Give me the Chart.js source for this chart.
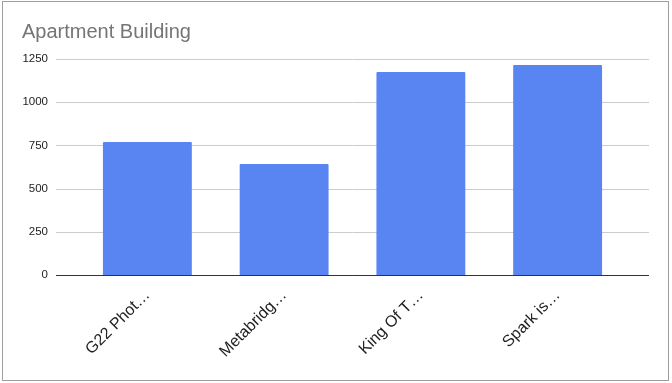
<!DOCTYPE html>
<html>
<head>
<meta charset="utf-8">
<script src="https://cdn.jsdelivr.net/npm/chart.js@4"></script>
<style>
  html, body { margin: 0; padding: 0; background: #fff; }
  #frame { position: absolute; left: 2px; top: 1px; width: 665px; height: 378px; border: 1px solid #9e9e9e; box-sizing: content-box; }
  #chart { position: absolute; left: 0; top: 0; }
</style>
</head>
<body>
<div id="frame"></div>
<canvas id="chart" width="672" height="383"></canvas>
<script>
// values
const categories = ["G22 Phot\u2026", "Metabridg\u2026", "King Of T\u2026", "Spark is\u2026"];
const buildingValues = [770, 643, 1175, 1215];
const yTicks = [0, 250, 500, 750, 1000, 1250];

const FONT = "'Liberation Sans', Arial, sans-serif";

// Google-style gridlines that run past the bar area on both sides
const wideGrid = {
  id: "wideGrid",
  beforeDatasetsDraw(chart) {
    const ctx = chart.ctx;
    const y = chart.scales.y;
    ctx.save();
    y.ticks.forEach(t => {
      const py = Math.round(y.getPixelForValue(t.value)) + 0.5;
      ctx.beginPath();
      ctx.strokeStyle = t.value === 0 ? "#333333" : "#cccccc";
      ctx.lineWidth = 1;
      ctx.moveTo(56, py);
      ctx.lineTo(649, py);
      ctx.stroke();
    });
    ctx.restore();
  },
  afterDatasetsDraw(chart) {
    // baseline sits on top of the bars
    const ctx = chart.ctx;
    const py = Math.round(chart.scales.y.getPixelForValue(0)) + 0.5;
    ctx.save();
    ctx.beginPath();
    ctx.strokeStyle = "#333333";
    ctx.moveTo(56, py);
    ctx.lineTo(649, py);
    ctx.stroke();
    ctx.restore();
  }
};

new Chart(document.getElementById("chart"), {
  type: "bar",
  data: {
    labels: categories,
    datasets: [{
      label: "Apartment Building",
      data: buildingValues,
      backgroundColor: "#5985f3",
      borderWidth: 0,
      borderRadius: 1,
      barPercentage: 0.65,
      categoryPercentage: 1
    }]
  },
  options: {
    responsive: false,
    animation: false,
    layout: { padding: { left: 22, right: 46, top: 20, bottom: 0 } },
    plugins: {
      legend: { display: false },
      tooltip: { enabled: false },
      title: {
        display: true,
        text: "Apartment Building",
        align: "start",
        color: "#757575",
        font: { family: FONT, size: 20, weight: "normal" },
        padding: { top: 0, bottom: 15 }
      }
    },
    scales: {
      x: {
        grid: { display: false, drawTicks: false },
        border: { display: false },
        afterFit(scale) { scale.height = 108; },
        ticks: {
          color: "#222222",
          font: { family: FONT, size: 16 },
          minRotation: 45,
          maxRotation: 45,
          autoSkip: false,
          padding: 11
        }
      },
      y: {
        min: 0,
        max: 1250,
        grid: { display: false, drawTicks: false },
        border: { display: false },
        afterFit(scale) { scale.width = 57; },
        afterBuildTicks(scale) { scale.ticks = yTicks.map(v => ({ value: v })); },
        ticks: {
          color: "#222222",
          font: { family: FONT, size: 11.5 },
          padding: 31,
          callback: v => String(v)
        }
      }
    }
  },
  plugins: [wideGrid]
});
</script>
</body>
</html>
